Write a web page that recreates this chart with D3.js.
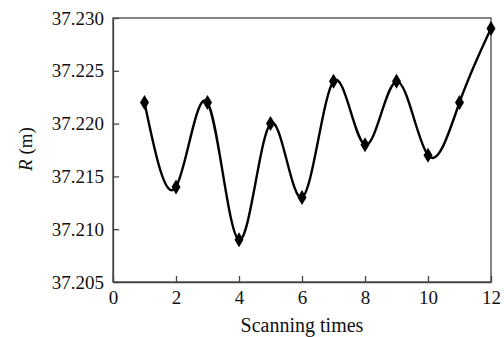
<!DOCTYPE html>
<html>
<head>
<meta charset="utf-8">
<script src="https://cdn.jsdelivr.net/npm/d3@7/dist/d3.min.js"></script>
<style>
  body { margin: 0; background: #fff; }
</style>
</head>
<body>
<div id="chart"></div>
<script>
var scans = [1, 2, 3, 4, 5, 6, 7, 8, 9, 10, 11, 12];
var radius = [37.222, 37.214, 37.222, 37.209, 37.220, 37.213, 37.224, 37.218, 37.224, 37.217, 37.222, 37.229];
var xTicks = [0, 2, 4, 6, 8, 10, 12];
var yTicks = [37.205, 37.210, 37.215, 37.220, 37.225, 37.230];

var font = '"Liberation Serif", "DejaVu Serif", serif';

var width = 504,
    height = 337,
    margin = {top: 18, right: 13, bottom: 55, left: 113};

var innerW = width - margin.left - margin.right,
    innerH = height - margin.top - margin.bottom;

var svg = d3.select('#chart')
  .append('svg')
  .attr('width', width)
  .attr('height', height)
  .append('g')
  .attr('transform', `translate(${margin.left},${margin.top})`);

var x = d3.scaleLinear().domain([0, 12]).range([0, innerW]);
var y = d3.scaleLinear().domain([37.205, 37.230]).range([innerH, 0]);

var points = scans.map((s, i) => ({s: s, r: radius[i]}));

// frame
svg.append('rect')
  .attr('width', innerW)
  .attr('height', innerH)
  .attr('fill', 'none')
  .attr('stroke', '#444')
  .attr('stroke-width', 1.3);

// axes, ticks pointing inward
var xAxis = d3.axisBottom(x).tickValues(xTicks).tickSize(-6).tickSizeOuter(0).tickPadding(9)
  .tickFormat(d3.format('d'));
var yAxis = d3.axisLeft(y).tickValues(yTicks).tickSize(-6).tickSizeOuter(0).tickPadding(9)
  .tickFormat(d3.format('.3f'));

var gx = svg.append('g')
  .attr('transform', `translate(0,${innerH})`)
  .call(xAxis);
var gy = svg.append('g').call(yAxis);

[gx, gy].forEach(g => {
  g.attr('font-family', font).attr('font-size', 19);
  g.select('.domain').attr('stroke', '#444').attr('stroke-width', 1.3);
  g.selectAll('.tick line').attr('stroke', '#444').attr('stroke-width', 1.3);
  g.selectAll('.tick text').attr('fill', '#111');
});

// smooth curve through the points
var line = d3.line()
  .x(d => x(d.s))
  .y(d => y(d.r))
  .curve(d3.curveNatural);

svg.append('path')
  .datum(points)
  .attr('fill', 'none')
  .attr('stroke', '#000')
  .attr('stroke-width', 2.4)
  .attr('d', line);

// diamond markers
svg.selectAll('.marker')
  .data(points)
  .enter()
  .append('path')
  .attr('class', 'marker')
  .attr('transform', d => `translate(${x(d.s)},${y(d.r)})`)
  .attr('d', 'M0,-7.5 L4.5,0 L0,7.5 L-4.5,0 Z')
  .attr('fill', '#000');

// axis titles
svg.append('text')
  .attr('x', innerW / 2)
  .attr('y', innerH + 50)
  .attr('text-anchor', 'middle')
  .attr('font-family', font)
  .attr('font-size', 20)
  .attr('fill', '#111')
  .text('Scanning times');

var yl = svg.append('text')
  .attr('transform', `translate(${32 - margin.left},${innerH / 2 - 1}) rotate(-90)`)
  .attr('text-anchor', 'middle')
  .attr('font-family', font)
  .attr('font-size', 19)
  .attr('fill', '#111');
yl.append('tspan').attr('font-style', 'italic').text('R');
yl.append('tspan').text(' (m)');
</script>
</body>
</html>
